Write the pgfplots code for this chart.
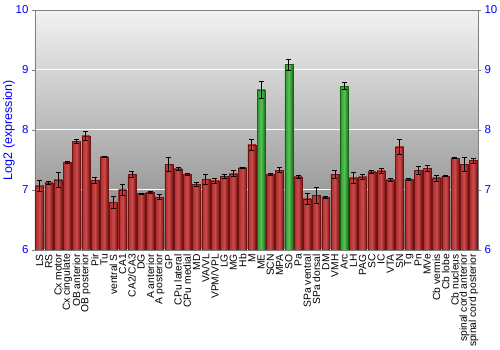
\documentclass[border=0pt]{standalone}
\usepackage{fontspec}
\setmainfont{Liberation Sans}
\usepackage{pgfplots}
\pgfplotsset{compat=1.18}
\usepackage{pgfplotstable}

\definecolor{redL}{RGB}{170,45,45}
\definecolor{redM}{RGB}{205,75,75}
\definecolor{redR}{RGB}{120,18,18}
\definecolor{redD}{RGB}{110,20,20}
\definecolor{grnL}{RGB}{45,150,45}
\definecolor{grnM}{RGB}{85,195,85}
\definecolor{grnR}{RGB}{25,110,25}
\definecolor{grnD}{RGB}{20,100,20}
\definecolor{axgray}{RGB}{128,128,128}

\pgfplotstableread{
x y e
0 7.07 0.09
1 7.12 0.03
2 7.17 0.12
3 7.46 0.015
4 7.81 0.03
5 7.90 0.075
6 7.16 0.05
7 7.55 0.01
8 6.79 0.10
9 7.00 0.09
10 7.26 0.05
11 6.94 0.01
12 6.96 0.02
13 6.88 0.04
14 7.43 0.12
15 7.35 0.03
16 7.26 0.01
17 7.09 0.03
18 7.18 0.08
19 7.15 0.04
20 7.23 0.03
21 7.27 0.05
22 7.37 0.01
23 7.75 0.09
25 7.26 0.01
26 7.33 0.04
28 7.22 0.02
29 6.85 0.09
30 6.91 0.13
31 6.88 0.02
32 7.26 0.07
34 7.20 0.09
35 7.22 0.04
36 7.30 0.02
37 7.32 0.04
38 7.17 0.02
39 7.72 0.12
40 7.18 0.02
41 7.33 0.07
42 7.36 0.05
43 7.20 0.05
44 7.23 0.01
45 7.53 0.01
46 7.43 0.12
47 7.49 0.04
}\redtable

\pgfplotstableread{
x y e
24 8.67 0.14
27 9.09 0.09
33 8.73 0.06
}\greentable

\begin{document}
\begin{tikzpicture}
\useasboundingbox (0,0) rectangle (500pt,350pt);
\begin{axis}[
  at={(35pt,100pt)}, anchor=south west,
  scale only axis, width=443pt, height=240pt,
  xmin=-0.5, xmax=47.5, ymin=6, ymax=10,
  axis line style={axgray},
  axis background/.style={top color=black!5, bottom color=black!50},
  ytick={6,7,8,9,10},
  ytick pos=left,
  tick align=outside,
  major tick length=3pt,
  ytick style={axgray},
  yticklabel style={blue, font=\fontsize{11.5}{13}\selectfont},
  /pgf/number format/assume math mode=true,
  ymajorgrids, grid style={white, line width=1pt},
  xtick={0,...,47},
  xtick style={draw=none},
  xticklabels={LS,RS,Cx motor,Cx cingulate,OB anterior,OB posterior,Pir,Tu,ventral S,CA1,CA2/CA3,DG,A anterior,A posterior,GP,CPu lateral,CPu medial,MD,VA/VL,VPM/VPL,LG,MG,Hb,M,ME,SCN,MPA,SO,Pa,SPa ventral,SPa dorsal,DM,VMH,Arc,LH,PAG,SC,IC,VTA,SN,Tg,Pn,MVe,Cb vermis,Cb lobe,Cb nucleus,spinal cord anterior,spinal cord posterior},
  xticklabel style={rotate=90, anchor=east, black, font=\fontsize{10.3}{11}\selectfont, inner sep=1pt},
  ylabel={Log2 (expression)},
  ylabel style={blue, font=\fontsize{12.5}{14}\selectfont, at={(axis description cs:-0.059,0.5)}, anchor=center},
  error bars/error bar style={black, line width=0.8pt},
  error bars/error mark options={rotate=90, black, mark size=2.5pt, line width=0.8pt},
  redbar/.style={ybar, bar width=0.86, bar shift=0pt, draw=redD, left color=redL, right color=redR, middle color=redM},
  grnbar/.style={ybar, bar width=0.86, bar shift=0pt, draw=grnD, left color=grnL, right color=grnR, middle color=grnM},
]
\pgfplotsinvokeforeach{0,...,44}{
\addplot[redbar, restrict expr to domain={\coordindex}{#1:#1},
  error bars/.cd, y dir=both, y explicit]
  table[x=x, y=y, y error=e] {\redtable};
}
\pgfplotsinvokeforeach{0,1,2}{
\addplot[grnbar, restrict expr to domain={\coordindex}{#1:#1},
  error bars/.cd, y dir=both, y explicit]
  table[x=x, y=y, y error=e] {\greentable};
}
\end{axis}
\begin{axis}[
  at={(35pt,100pt)}, anchor=south west,
  scale only axis, width=443pt, height=240pt,
  xmin=-0.5, xmax=47.5, ymin=6, ymax=10,
  axis x line=none,
  axis y line*=right,
  axis line style={axgray, -},
  ytick={6,7,8,9,10},
  tick align=outside,
  major tick length=3pt,
  ytick style={axgray},
  yticklabel style={blue, font=\fontsize{11.5}{13}\selectfont},
  /pgf/number format/assume math mode=true,
]
\addplot[draw=none] coordinates {(0,6)};
\end{axis}
\end{tikzpicture}
\end{document}
